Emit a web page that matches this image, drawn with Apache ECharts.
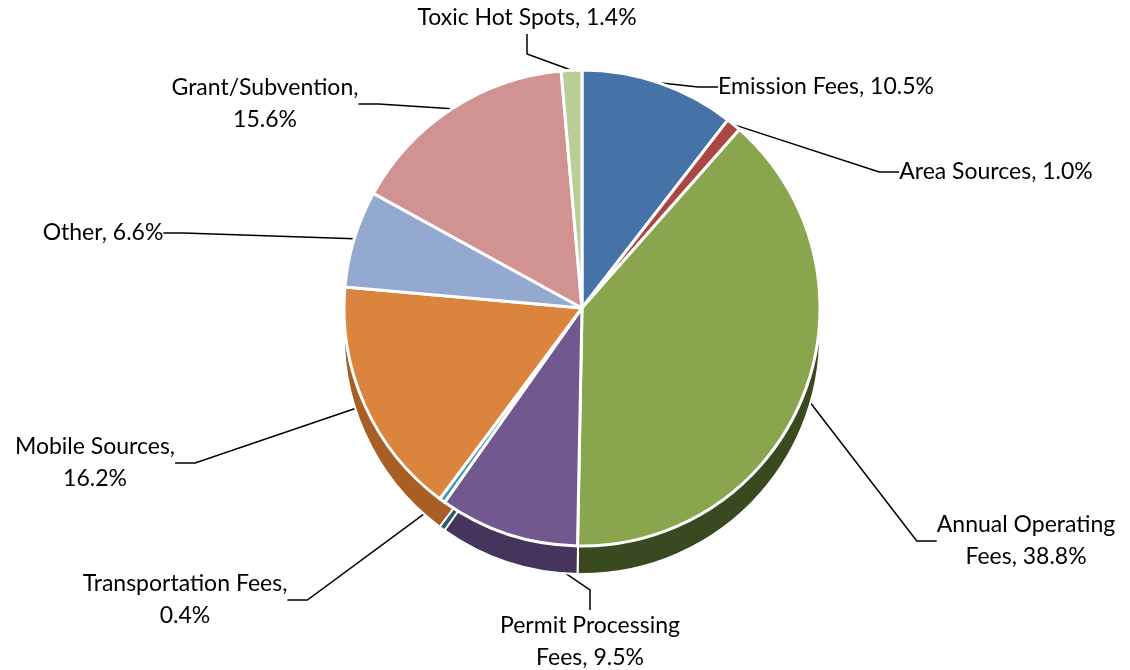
<!DOCTYPE html>
<html>
<head>
<meta charset="utf-8">
<script src="https://cdn.jsdelivr.net/npm/echarts@6/dist/echarts.min.js"></script>
<style>
  html, body { margin: 0; padding: 0; background: #fff; }
  #chart { width: 1130px; height: 670px; }
</style>
</head>
<body>
<div id="chart"></div>
<script>
var names = ['Emission Fees', 'Area Sources', 'Annual Operating\nFees', 'Permit Processing\nFees',
    'Transportation Fees,\n', 'Mobile Sources,\n', 'Other', 'Grant/Subvention,\n', 'Toxic Hot Spots'];
var shares = [10.5, 1.0, 38.8, 9.5, 0.4, 16.2, 6.6, 15.6, 1.4];
var topColors = ['#4673a7', '#aa4643', '#89a54e', '#71588f', '#4198af', '#db843d', '#93a9cf', '#d19392', '#b9cd97'];
var sideColors = ['#2b4a70', '#6e2a28', '#3a4a20', '#45345c', '#265f6e', '#a85f25', '#5d6f91', '#8f5654', '#5d6a48'];

// where each label sits (text centre)
var labelPos = [[826, 87], [996, 172], [1026, 541], [590, 642], [185, 600], [95, 463], [103, 233], [265, 104], [527, 18]];

var chart = echarts.init(document.getElementById('chart'));

function labelText(p) {
    var n = p.name;
    if (n.slice(-1) === '\n') return n + p.value.toFixed(1) + '%';
    return n + ', ' + p.value.toFixed(1) + '%';
}

var option = {
    backgroundColor: '#fff',
    animation: false,
    series: [{
        // side walls (darker copy pushed down)
        type: 'pie',
        silent: true,
        center: [582, 336],
        radius: 238,
        startAngle: 90,
        label: { show: false },
        labelLine: { show: false },
        itemStyle: { borderColor: '#fff', borderWidth: 2 },
        data: names.map(function (n, i) {
            return { name: n, value: shares[i], itemStyle: { color: sideColors[i] } };
        })
    }, {
        type: 'pie',
        center: [582, 308],
        radius: 238,
        startAngle: 90,
        itemStyle: { borderColor: '#fff', borderWidth: 3 },
        label: {
            show: true,
            formatter: labelText,
            fontFamily: 'Lato',
            fontSize: 23,
            color: '#000',
            lineHeight: 32,
            align: 'center'
        },
        labelLine: {
            show: true,
            length: 20,
            length2: 20,
            lineStyle: { color: '#000', width: 1.5 }
        },
        labelLayout: function (p) {
            var pos = labelPos[p.dataIndex];
            return { x: pos[0], y: pos[1], align: 'center', verticalAlign: 'middle' };
        },
        data: names.map(function (n, i) {
            return { name: n, value: shares[i], itemStyle: { color: topColors[i] } };
        })
    }]
};

chart.setOption(option);
</script>
</body>
</html>
